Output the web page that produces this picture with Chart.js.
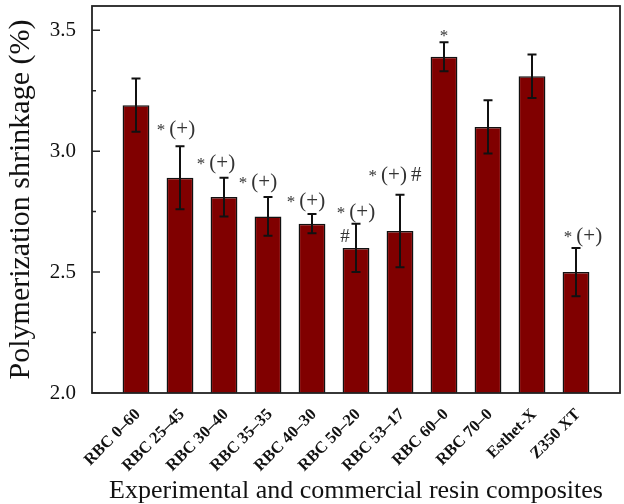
<!DOCTYPE html>
<html>
<head>
<meta charset="utf-8">
<script src="https://cdn.jsdelivr.net/npm/chart.js@4.4.1/dist/chart.umd.min.js"></script>
<style>
  html, body { margin: 0; padding: 0; background: #fff; }
  #wrap { position: relative; width: 624px; height: 504px; }
</style>
</head>
<body>
<div id="wrap"><canvas id="c"></canvas></div>
<script>
// ---- data ----
const categories = ['RBC 0–60', 'RBC 25–45', 'RBC 30–40', 'RBC 35–35', 'RBC 40–30', 'RBC 50–20', 'RBC 53–17', 'RBC 60–0', 'RBC 70–0', 'Esthet-X', 'Z350 XT'];
const shrinkage = [3.19, 2.89, 2.81, 2.73, 2.70, 2.60, 2.67, 3.39, 3.10, 3.31, 2.50];
const stdDev = [0.11, 0.13, 0.08, 0.08, 0.04, 0.10, 0.15, 0.06, 0.11, 0.09, 0.10];
const upperMarks = ['', '* (+)', '* (+)', '* (+)', '* (+)', '* (+)', '* (+) #', '*', '', '', '* (+)'];
const lowerMarks = ['', '', '', '', '', '#', '', '', '', '', ''];
const yMajorTicks = [2.0, 2.5, 3.0, 3.5];
const yMinorTicks = [2.25, 2.75, 3.25];
const yMin = 2.0, yMax = 3.6;

// ---- styling (text offsets in px relative to error-bar top) ----
const markDx = [0, -4, -8, -10, -6, 0, -5, 0, 0, 0, 7];
const markDy = [0, -18, -16, -16, -14, -13, -21, -8, 0, 0, -13];

// padded category axis: empty slot at each end
const labels = [''].concat(categories, ['']);
const values = [null].concat(shrinkage, [null]);

const serif = '"Liberation Serif", "Times New Roman", serif';

const decorPlugin = {
  id: 'decor',
  afterDatasetsDraw(chart) {
    const ctx = chart.ctx;
    const ya = chart.scales.y;
    const meta = chart.getDatasetMeta(0);
    const area = chart.chartArea;
    ctx.save();
    // error bars
    ctx.strokeStyle = '#111';
    ctx.lineWidth = 2;
    shrinkage.forEach((v, i) => {
      const el = meta.data[i + 1];
      const x = el.x;
      const yt = ya.getPixelForValue(v + stdDev[i]);
      const yb = ya.getPixelForValue(v - stdDev[i]);
      ctx.beginPath();
      ctx.moveTo(x, yt); ctx.lineTo(x, yb);
      ctx.moveTo(x - 4.5, yt); ctx.lineTo(x + 4.5, yt);
      ctx.moveTo(x - 4.5, yb); ctx.lineTo(x + 4.5, yb);
      ctx.stroke();
    });
    // significance marks
    ctx.fillStyle = '#333';
    ctx.textBaseline = 'alphabetic';
    shrinkage.forEach((v, i) => {
      const el = meta.data[i + 1];
      const yt = ya.getPixelForValue(v + stdDev[i]);
      if (upperMarks[i]) {
        const toks = upperMarks[i].split(' ');
        const fonts = toks.map(t => t === '*' ? '17px ' + serif : '21px ' + serif);
        const gap = 4;
        let widths = toks.map((t, k) => { ctx.font = fonts[k]; return ctx.measureText(t).width; });
        const total = widths.reduce((a, b) => a + b, 0) + gap * (toks.length - 1);
        let x = el.x + markDx[i] - total / 2;
        const base = yt + markDy[i] + 7;
        toks.forEach((t, k) => {
          ctx.font = fonts[k];
          ctx.textAlign = 'left';
          ctx.fillText(t, x, base);
          x += widths[k] + gap;
        });
      }
      if (lowerMarks[i]) {
        ctx.font = '19px ' + serif;
        ctx.textAlign = 'center';
        ctx.fillText(lowerMarks[i], el.x - 11, yt + 18);
      }
    });
    // inward y ticks
    ctx.strokeStyle = '#222';
    ctx.lineWidth = 1.5;
    ctx.beginPath();
    yMajorTicks.forEach(v => {
      const y = ya.getPixelForValue(v);
      ctx.moveTo(area.left, y); ctx.lineTo(area.left + 8, y);
    });
    yMinorTicks.forEach(v => {
      const y = ya.getPixelForValue(v);
      ctx.moveTo(area.left, y); ctx.lineTo(area.left + 4, y);
    });
    ctx.stroke();
    // frame
    ctx.lineWidth = 1.8;
    ctx.strokeRect(area.left, area.top, area.right - area.left, area.bottom - area.top);
    ctx.restore();
  }
};

new Chart(document.getElementById('c'), {
  type: 'bar',
  data: {
    labels: labels,
    datasets: [{
      data: values,
      backgroundColor: '#800000',
      borderColor: '#111',
      borderWidth: 1.5,
      barPercentage: 0.61,
      categoryPercentage: 1.0
    }]
  },
  plugins: [decorPlugin],
  options: {
    responsive: true,
    maintainAspectRatio: false,
    animation: false,
    devicePixelRatio: 1,
    layout: { padding: { top: 6, right: 4, left: 0, bottom: 0 } },
    plugins: { legend: { display: false }, tooltip: { enabled: false } },
    scales: {
      x: {
        offset: false,
        grid: { display: false, drawTicks: false },
        border: { display: false },
        ticks: {
          autoSkip: false,
          minRotation: 45,
          maxRotation: 45,
          padding: 12,
          labelOffset: 2,
          color: '#111',
          font: { family: serif, size: 16.5, weight: 'bold' }
        },
        title: {
          display: true,
          text: 'Experimental and commercial resin composites',
          color: '#111',
          font: { family: serif, size: 26, lineHeight: 1.0 },
          padding: { top: 0, bottom: 0 }
        },
        afterFit(scale) {
          scale.height = 111;
          scale.paddingLeft = 0; scale.paddingRight = 0;
        }
      },
      y: {
        min: yMin,
        max: yMax,
        grid: { display: false, drawTicks: false },
        border: { display: false },
        afterBuildTicks(scale) { scale.ticks = yMajorTicks.map(v => ({ value: v })); },
        ticks: {
          padding: 16,
          color: '#111',
          font: { family: serif, size: 21 },
          callback: v => Number(v).toFixed(1)
        },
        title: {
          display: true,
          text: 'Polymerization shrinkage (%)',
          color: '#111',
          font: { family: serif, size: 30, lineHeight: 1.1 },
          padding: { top: 5, bottom: 0 }
        },
        afterFit(scale) {
          scale.width = 92;
          scale.paddingTop = 0; scale.paddingBottom = 0;
        }
      }
    }
  }
});
</script>
</body>
</html>
